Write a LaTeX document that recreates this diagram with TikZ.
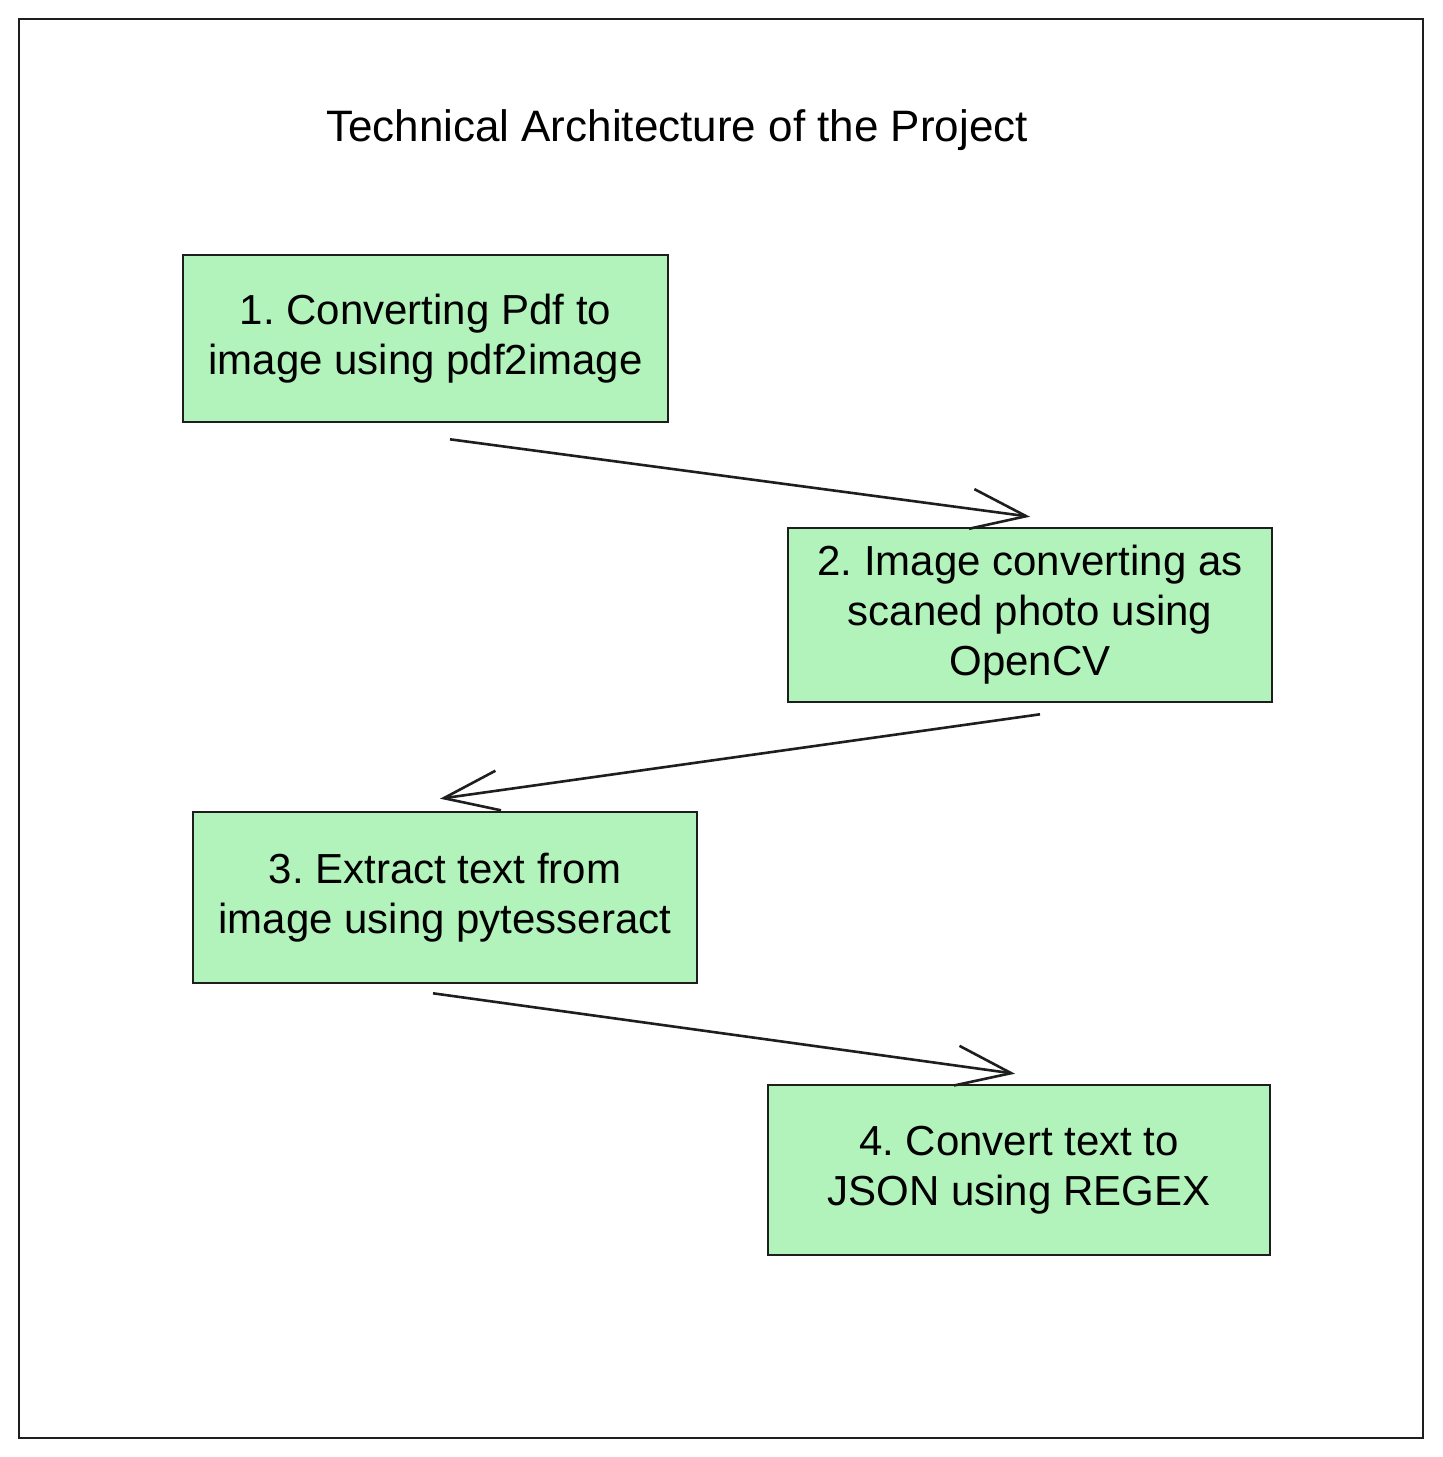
\documentclass[tikz,border=0pt]{standalone}
\usepackage{fontspec}
\setmainfont{Liberation Sans}
\usetikzlibrary{arrows.meta,positioning}
\definecolor{stepgreen}{HTML}{B2F2BB}
\definecolor{ink}{HTML}{1E1E1E}
\frenchspacing

\begin{document}
\begin{tikzpicture}[x=1pt,y=-1pt,
  stepbox/.style={draw=ink,fill=stepgreen,line width=2.6pt,align=center,
    font=\fontsize{42}{50}\selectfont,inner sep=0pt},
  flow/.style={draw=ink,line width=2.6pt,-{Straight Barb[length=55pt,width=40pt,line width=2.6pt]}}]
\useasboundingbox (0,0) rectangle (1443,1457);
\draw[ink,line width=2.8pt] (19,19) rectangle (1423,1438);

\node[font=\fontsize{44}{50}\selectfont] (title) at (677,130) {Technical Architecture of the Project};

\node[stepbox,minimum width=485pt,minimum height=167pt] (pdf) at (425.5,338.5)
  {1. Converting Pdf to\\image using pdf2image};
\node[stepbox,minimum width=484pt,minimum height=174pt] (cv) at (1030,615)
  {2. Image converting as\\scaned photo using\\OpenCV};
\node[stepbox,minimum width=504pt,minimum height=171pt] (ocr) at (445,897.5)
  {3. Extract text from\\image using pytesseract};
\node[stepbox,minimum width=502pt,minimum height=170pt] (json) at (1019,1170)
  {4. Convert text to\\JSON using REGEX};

\draw[flow] ([xshift=24.5pt,yshift=-16pt]pdf.south) -- ([yshift=10pt]cv.north);
\draw[flow] ([xshift=10pt,yshift=-11pt]cv.south) -- ([xshift=-5pt,yshift=12pt]ocr.north);
\draw[flow] ([xshift=-12pt,yshift=-9pt]ocr.south) -- ([xshift=-4pt,yshift=10pt]json.north);
\end{tikzpicture}
\end{document}
